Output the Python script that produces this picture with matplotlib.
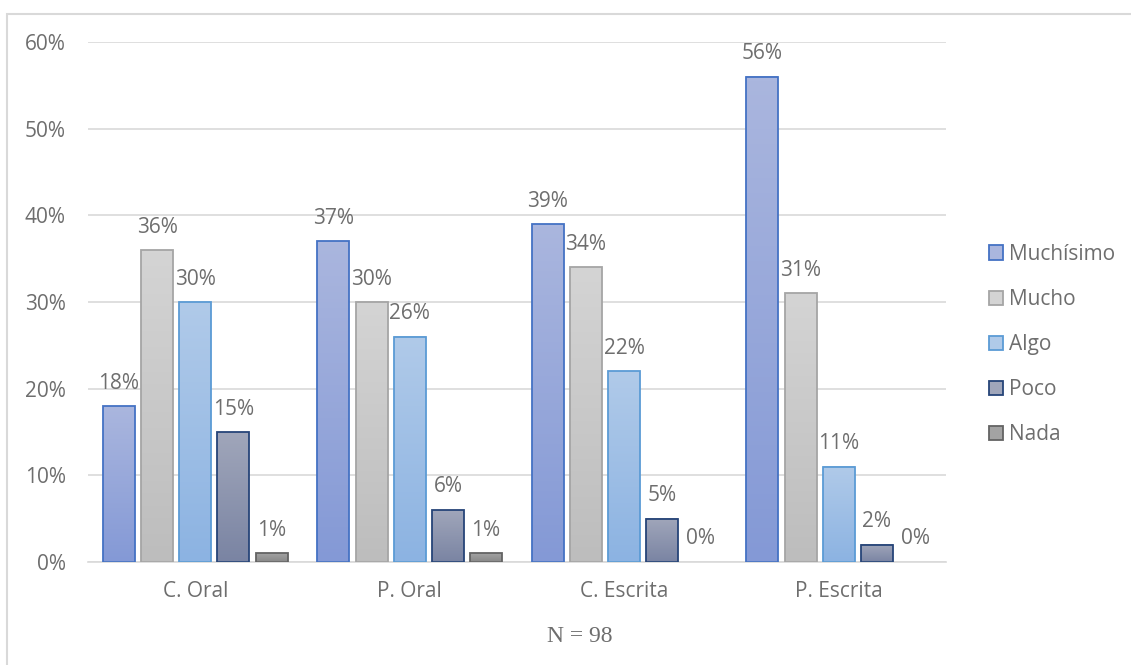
import matplotlib.pyplot as plt
import matplotlib.colors as mcolors
from matplotlib.patches import Rectangle
import numpy as np

categories = ['C. Oral', 'P. Oral', 'C. Escrita', 'P. Escrita']
series = ['Muchísimo', 'Mucho', 'Algo', 'Poco', 'Nada']
muchisimo = [18, 37, 39, 56]
mucho = [36, 30, 34, 31]
algo = [30, 26, 22, 11]
poco = [15, 6, 5, 2]
nada = [1, 1, 0, 0]
values = [muchisimo, mucho, algo, poco, nada]

# top colour, bottom colour, edge colour
styles = [('#aab6de', '#8499d6', '#4472c4'),
          ('#d4d4d4', '#bdbdbd', '#a5a5a5'),
          ('#b0cae9', '#8cb3e2', '#5b9bd5'),
          ('#a0a6ba', '#7a84a3', '#264478'),
          ('#a3a3a3', '#888888', '#636363')]

plt.rcParams['font.family'] = ['Open Sans', 'DejaVu Sans']
txt = '#6e6e6e'
fs = 15

fig = plt.figure(figsize=(11.31, 6.65), dpi=100)
ax = fig.add_axes([0.0778, 0.1549, 0.7586, 0.7819])
fig.patches.append(Rectangle((0.0062, -0.05), 1.1, 1.029, transform=fig.transFigure,
                             fill=False, edgecolor='#d9d9d9', lw=1.5))

x = np.arange(len(categories))
w = 0.149
step = 0.178
grad = np.linspace(0, 1, 100).reshape(-1, 1)

for i, (name, vals) in enumerate(zip(series, values)):
    top, bot, edge = styles[i]
    cmap = mcolors.LinearSegmentedColormap.from_list(name, [bot, top])
    off = (i - 2) * step
    for xc, v in zip(x + off, vals):
        x0 = xc - w / 2
        h = v / 100
        if h > 0:
            ax.imshow(grad, extent=[x0, x0 + w, 0, h], origin='lower',
                      cmap=cmap, aspect='auto', zorder=2)
            ax.bar(xc, h, w, facecolor='none', edgecolor=edge, lw=1.3, zorder=3)
        ax.annotate(f'{v}%', (xc, h), xytext=(0, 9),
                    textcoords='offset points', ha='center', va='bottom',
                    fontsize=fs, color=txt)

handles = [Rectangle((0, 0), 1, 1, facecolor=s[0], edgecolor=s[2], lw=1.3) for s in styles]
ax.legend(handles, series, loc='center left', bbox_to_anchor=(1.04, 0.418), frameon=False,
          fontsize=fs, labelcolor=txt, handlelength=0.68, handleheight=0.68,
          handletextpad=0.3, labelspacing=1.16, borderaxespad=0)

ax.set_xlim(-0.5, 3.5)
ax.set_ylim(0, 0.6)
ax.set_yticks(np.arange(0, 0.61, 0.1))
ax.set_yticklabels([f'{int(t)}%' for t in np.arange(0, 61, 10)])
ax.set_xticks(x)
ax.set_xticklabels(categories)
ax.tick_params(length=0, labelsize=fs, labelcolor=txt)
ax.tick_params(axis='y', pad=16)
ax.tick_params(axis='x', pad=14)
ax.grid(axis='y', color='#d9d9d9', lw=1.2, zorder=0)
ax.set_axisbelow(True)
for s in ['top', 'right', 'left']:
    ax.spines[s].set_visible(False)
ax.spines['bottom'].set_color('#d9d9d9')
ax.spines['bottom'].set_linewidth(1.2)

fig.text(0.513, 0.043, 'N = 98', ha='center', va='center', fontsize=17,
         color=txt, family='Liberation Serif')

fig.savefig('out.png', dpi=100)
